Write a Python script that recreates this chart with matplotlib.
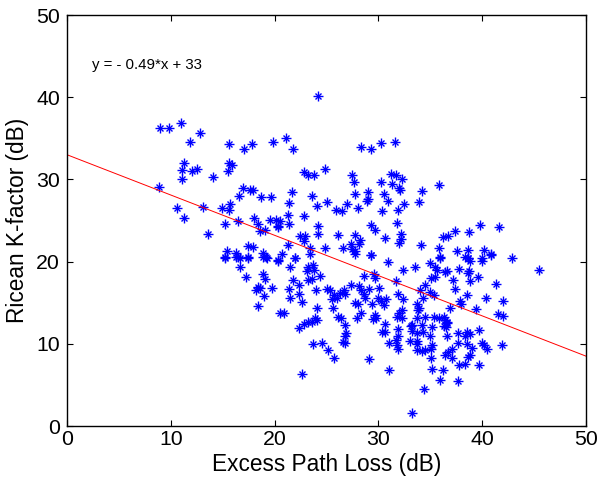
import matplotlib
matplotlib.use("Agg")
import matplotlib.pyplot as plt
import numpy as np

plt.rcParams['font.family'] = ['Liberation Sans', 'DejaVu Sans']

excess_path_loss = [
    9.0, 9.8, 10.95, 12.8, 11.85, 15.6, 17.05, 17.8, 19.8, 11.3, 11.05, 12.0, 12.55, 11.05, 14.1,
    15.6, 15.9, 15.5, 8.9, 10.6, 11.3, 13.1, 13.6, 14.9, 15.7, 15.6, 15.2, 16.5, 16.6, 17.0,
    17.6, 17.9, 18.7, 19.65, 18.0, 18.4, 19.1, 18.6, 19.6, 20.1, 20.3, 17.4, 17.9, 18.85, 19.2,
    15.2, 15.4, 16.3, 16.5, 17.4,
    15.2, 16.3, 16.7, 17.4, 18.85, 19.3, 20.3, 16.7, 17.2, 18.9, 19.1, 18.4, 18.6, 18.2, 19.75,
    19.0, 18.4, 20.5,
    24.2, 21.1, 21.8, 28.3, 29.3, 30.25, 31.6, 22.8, 23.25, 23.8, 24.9, 27.5, 27.6, 30.25, 31.2,
    31.65, 32.3, 31.3, 32.0, 32.1, 21.7, 23.6, 27.7, 29.0, 30.5, 28.9, 29.0, 30.95, 32.5, 21.4,
    24.1, 25.0, 27.0, 25.9, 26.5, 28.0, 30.3, 31.9, 21.3, 22.8, 20.5, 20.35, 21.4, 24.15, 29.3,
    29.7, 31.75, 24.2, 22.45, 22.9, 22.8, 26.1, 27.7, 28.2, 28.1, 30.6, 32.2, 32.2, 32.0, 21.3,
    23.4, 24.9, 26.6, 27.4, 27.7, 27.5, 20.7, 22.0, 29.3,
    35.8, 34.2, 33.9, 39.8, 41.65, 37.4, 38.75, 36.25, 36.7, 34.1, 35.8, 37.6, 38.65, 40.2, 40.85,
    42.9, 35.9, 38.3, 38.6, 40.0,
    33.5, 35.0, 35.45, 35.6, 35.9, 36.4, 36.6, 37.8, 38.6, 38.8, 38.7, 38.6, 40.0, 40.8, 45.5,
    35.1, 35.45, 34.5, 37.2, 38.8, 39.6, 41.3, 37.4, 34.0, 35.0, 35.4, 34.3, 38.5, 40.4, 42.0,
    37.9, 38.0, 36.9, 39.4, 41.55, 42.0, 33.7, 33.9, 33.85, 33.75, 34.5, 35.4, 35.8, 36.3, 36.4,
    36.6, 34.2, 33.2, 35.2, 36.3, 36.6, 36.5, 39.7, 33.2, 33.75, 34.3, 35.0, 36.6, 37.7, 38.5,
    38.8, 38.3, 33.0, 33.75, 33.7, 35.2, 35.1, 37.7, 38.5, 40.0, 40.2, 40.5, 41.9, 33.7, 34.2,
    34.5, 37.05, 36.7, 36.4, 37.05, 38.8, 38.6, 39.0, 35.1, 37.8, 38.3, 39.7, 35.2, 36.2, 35.9,
    37.7, 34.4, 33.2,
    20.35, 22.0, 23.4, 27.7, 29.3, 30.95, 21.5, 23.25, 23.7, 23.8, 23.1, 32.4, 28.6, 29.6, 29.7,
    24.4, 21.8, 22.35, 23.25, 23.6, 31.65, 21.4, 21.5, 22.35, 22.6, 24.0, 25.0, 25.3, 25.75, 26.0,
    25.55, 26.3, 26.7, 26.8, 27.4, 28.1, 28.3, 28.6, 28.75, 29.1, 30.05, 30.0, 30.25, 30.7, 30.5,
    31.85, 32.4, 27.7, 28.0, 29.35, 24.05, 25.65, 20.9, 28.3, 27.9, 26.1, 26.4, 29.7, 29.8, 29.5,
    31.75, 32.0, 32.25, 32.3, 23.9, 24.05, 23.2, 23.6, 22.8, 33.1, 30.6, 30.3, 30.6, 31.85, 31.9,
    22.35, 26.8, 26.9, 26.8, 26.6, 26.8, 31.0, 31.65, 31.75, 31.85, 23.7, 24.6, 25.1, 25.75, 29.1,
    31.05, 22.6,
]

ricean_k_factor = [
    36.2, 36.2, 36.9, 35.6, 34.6, 34.3, 33.7, 34.3, 34.6, 32.0, 31.1, 31.0, 31.3, 30.1, 30.3,
    32.0, 31.8, 31.0, 29.1, 26.5, 25.3, 26.6, 23.4, 26.5, 27.0, 26.3, 24.6, 24.9, 28.0, 28.9,
    28.7, 28.7, 27.8, 27.8, 25.3, 24.6, 23.9, 23.7, 25.1, 25.1, 24.3, 21.9, 21.8, 21.1, 20.6,
    20.6, 21.3, 21.1, 20.6, 20.6,
    20.4, 20.6, 20.4, 20.4, 20.6, 20.5, 20.1, 19.3, 18.1, 18.5, 17.9, 16.9, 16.8, 16.6, 16.8,
    15.8, 14.6, 13.8,
    40.1, 35.0, 33.7, 34.0, 33.7, 34.4, 34.5, 30.9, 30.5, 30.5, 31.3, 30.5, 29.7, 29.7, 30.7,
    30.5, 30.1, 29.5, 28.9, 28.7, 28.5, 28.0, 28.2, 28.5, 28.2, 27.4, 27.6, 27.4, 27.0, 27.1,
    26.8, 27.3, 27.0, 26.3, 26.2, 26.5, 26.2, 26.3, 25.7, 25.6, 24.9, 24.2, 24.6, 24.3, 24.5,
    23.9, 24.7, 23.4, 23.1, 23.1, 22.5, 23.2, 23.2, 22.6, 22.2, 22.9, 23.4, 22.7, 22.3, 22.0,
    21.6, 21.7, 21.7, 22.1, 21.3, 21.5, 20.9, 20.5, 20.8,
    29.3, 28.6, 27.3, 24.4, 24.2, 23.7, 23.6, 23.0, 23.1, 22.0, 21.7, 21.3, 21.4, 21.4, 20.9,
    20.5, 20.6, 20.6, 20.5, 20.4,
    19.3, 19.8, 19.3, 19.0, 20.5, 18.7, 18.8, 19.1, 20.5, 20.1, 18.8, 18.6, 20.1, 20.8, 19.0,
    18.0, 18.1, 17.2, 17.8, 17.6, 18.1, 17.3, 16.7, 16.6, 16.3, 15.9, 15.6, 15.9, 15.6, 15.2,
    15.2, 14.8, 14.3, 14.2, 13.6, 13.4, 14.8, 14.4, 14.1, 13.2, 13.3, 13.3, 13.1, 13.3, 12.9,
    12.7, 12.3, 12.3, 12.0, 12.2, 12.5, 12.0, 11.7, 11.5, 11.3, 11.4, 10.9, 11.0, 11.3, 11.4,
    11.2, 11.0, 10.4, 10.3, 10.0, 9.8, 9.4, 10.1, 10.0, 10.1, 9.8, 9.4, 9.9, 9.3, 9.15,
    9.3, 9.4, 9.0, 8.7, 8.3, 8.7, 8.45, 9.5, 8.3, 7.4, 7.5, 7.4, 6.95, 6.8, 5.6,
    5.5, 4.5, 1.55,
    20.2, 20.4, 20.9, 20.9, 20.8, 20.0, 19.3, 19.4, 19.6, 19.0, 18.8, 19.0, 18.2, 18.5, 18.0,
    18.2, 17.8, 17.2, 17.8, 17.9, 17.6, 16.7, 15.6, 16.0, 15.1, 16.6, 16.7, 16.5, 15.9, 15.6,
    15.5, 16.2, 16.6, 16.0, 17.1, 17.0, 16.5, 16.0, 15.6, 16.7, 16.8, 15.6, 15.2, 15.4, 14.7,
    16.0, 15.4, 15.0, 14.85, 14.8, 14.4, 14.4, 13.7, 13.7, 13.2, 13.3, 13.2, 13.45, 13.2, 13.05,
    13.3, 13.7, 14.1, 13.1, 13.1, 12.9, 12.7, 12.7, 12.4, 12.2, 12.4, 11.4, 11.4, 11.8, 10.9,
    11.9, 12.3, 11.3, 10.9, 10.2, 10.1, 10.1, 10.5, 9.9, 9.4, 10.0, 10.1, 9.3, 8.3, 8.2,
    6.8, 6.3,
]

fit_slope = -0.49
fit_intercept = 33
fit_label = "y = - 0.49*x + 33"

x_ticks = [0, 10, 20, 30, 40, 50]
y_ticks = [0, 10, 20, 30, 40, 50]

fig = plt.figure(figsize=(5.99, 4.84), dpi=100)
ax = fig.add_axes([0.1119, 0.1198, 0.8664, 0.8492])

x = np.array(excess_path_loss)
y = np.array(ricean_k_factor)
ax.plot(x, y, linestyle='none', marker='+', markersize=7, markeredgewidth=1.0, color=(0, 0, 1))
ax.plot(x, y, linestyle='none', marker='x', markersize=4.5, markeredgewidth=1.0, color=(0, 0, 1))

xl = np.array([0, 50])
ax.plot(xl, fit_slope * xl + fit_intercept, color='red', linewidth=0.7)

ax.text(2.4, 43.9, fit_label, fontsize=10.8, va='center', ha='left')

ax.set_xlim(0, 50)
ax.set_ylim(0, 50)
ax.set_xticks(x_ticks)
ax.set_yticks(y_ticks)
ax.tick_params(direction='in', top=True, right=True, labelsize=15.3, length=4)
ax.tick_params(axis='x', pad=3)
ax.tick_params(axis='y', pad=5)
ax.set_xlabel('Excess Path Loss (dB)', fontsize=16.3, labelpad=3)
ax.set_ylabel('Ricean K-factor (dB)', fontsize=16.3, labelpad=5)
for s in ax.spines.values():
    s.set_linewidth(1.0)

fig.savefig('out.png', dpi=100)
